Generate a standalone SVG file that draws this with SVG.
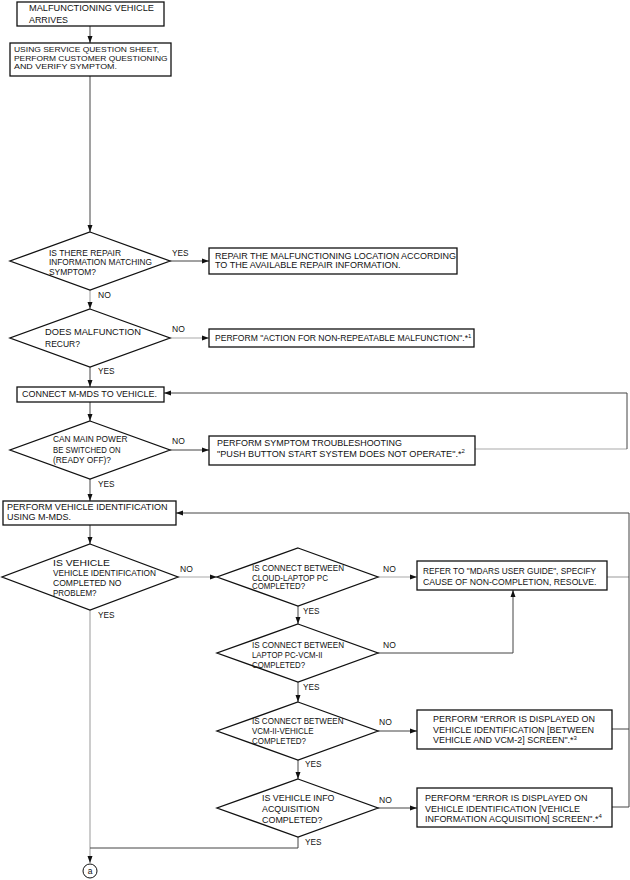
<svg xmlns="http://www.w3.org/2000/svg" width="630" height="880" viewBox="0 0 630 880">
<style>
text{font-family:"Liberation Sans",Arial,sans-serif;font-size:8.5px;fill:#111}
.box{fill:#fff;stroke:#111;stroke-width:1.3}
.dia{fill:#fff;stroke:#111;stroke-width:1.3}
.ln{fill:none;stroke:#444;stroke-width:1}
.lg{fill:none;stroke:#aaa;stroke-width:1.2}
.sup{font-size:6px}
.sm{font-size:8px}
.big{font-size:9.2px}
</style>
<defs>
<marker id="ar" markerUnits="userSpaceOnUse" markerWidth="8" markerHeight="6" refX="7" refY="3" orient="auto">
<path d="M0,0.5 L7,3 L0,5.5 z" fill="#111"/>
</marker>
</defs>
<rect width="630" height="880" fill="#fff"/>
<g id="connectors">
<path class="ln" d="M90,26 V43" marker-end="url(#ar)"/>
<path class="ln" d="M90,76 V232" marker-end="url(#ar)"/>
<path class="ln" d="M170,261 H209" marker-end="url(#ar)"/>
<path class="lg" d="M90,290 V309" marker-end="url(#ar)"/>
<path class="lg" d="M170,338 H209" marker-end="url(#ar)"/>
<path class="ln" d="M90,367 V387" marker-end="url(#ar)"/>
<path class="ln" d="M90,402 V421" marker-end="url(#ar)"/>
<path class="ln" d="M170,450 H209" marker-end="url(#ar)"/>
<path class="lg" d="M475,449 H627"/>
<path class="ln" d="M627,449 V393 H164" marker-end="url(#ar)"/>
<path class="ln" d="M90,479 V501" marker-end="url(#ar)"/>
<path class="ln" d="M90,525 V544" marker-end="url(#ar)"/>
<path class="lg" d="M178,577 H217" marker-end="url(#ar)"/>
<path class="lg" d="M378,577 H417" marker-end="url(#ar)"/>
<path class="ln" d="M298,606 V624" marker-end="url(#ar)"/>
<path class="ln" d="M378,653 H513 V590" marker-end="url(#ar)"/>
<path class="ln" d="M298,682 V702" marker-end="url(#ar)"/>
<path class="ln" d="M378,731 H417" marker-end="url(#ar)"/>
<path class="ln" d="M298,760 V779" marker-end="url(#ar)"/>
<path class="ln" d="M378,808 H417" marker-end="url(#ar)"/>
<path class="lg" d="M607,577 H629"/>
<path class="ln" d="M612,729 H629"/>
<path class="ln" d="M612,807 H629 V513 H176" marker-end="url(#ar)"/>
<path class="lg" d="M90,610 V863" marker-end="url(#ar)"/>
<path class="ln" d="M298,837 V848 H90"/>
</g>
<g id="n1"><rect class="box" x="17" y="2" width="147" height="24"/>
<text x="29" y="10.7" textLength="125" lengthAdjust="spacingAndGlyphs">MALFUNCTIONING VEHICLE</text><text x="29" y="22.7" textLength="39" lengthAdjust="spacingAndGlyphs">ARRIVES</text></g>
<g id="n2"><rect class="box" x="10" y="43" width="161" height="33"/>
<text class="sm" x="14" y="52" textLength="145" lengthAdjust="spacingAndGlyphs">USING SERVICE QUESTION SHEET,</text><text class="sm" x="14" y="60.6" textLength="153.5" lengthAdjust="spacingAndGlyphs">PERFORM CUSTOMER QUESTIONING</text><text class="sm" x="14" y="69" textLength="103" lengthAdjust="spacingAndGlyphs">AND VERIFY SYMPTOM.</text></g>
<g id="d1"><polygon class="dia" points="90,232 170,261 90,290 10,261"/>
<text x="49" y="255.7" textLength="72" lengthAdjust="spacingAndGlyphs">IS THERE REPAIR</text><text x="49" y="265.3" textLength="103" lengthAdjust="spacingAndGlyphs">INFORMATION MATCHING</text><text x="49" y="275" textLength="47" lengthAdjust="spacingAndGlyphs">SYMPTOM?</text>
<text x="172" y="255.7" textLength="16.5" lengthAdjust="spacingAndGlyphs">YES</text><text x="98" y="298.3">NO</text></g>
<g id="n3"><rect class="box" x="209" y="248" width="248" height="26"/>
<text x="215" y="258.7" textLength="241" lengthAdjust="spacingAndGlyphs">REPAIR THE MALFUNCTIONING LOCATION ACCORDING</text><text x="215" y="268.3" textLength="185.5" lengthAdjust="spacingAndGlyphs">TO THE AVAILABLE REPAIR INFORMATION.</text></g>
<g id="d2"><polygon class="dia" points="90,309 170,338 90,367 10,338"/>
<text x="45" y="335.3" textLength="96" lengthAdjust="spacingAndGlyphs">DOES MALFUNCTION</text><text x="45" y="346.7">RECUR?</text>
<text x="172" y="331.7">NO</text><text x="98" y="374" textLength="16.5" lengthAdjust="spacingAndGlyphs">YES</text></g>
<g id="n4"><rect class="box" x="209" y="329" width="265" height="18"/>
<text x="215" y="341" textLength="253" lengthAdjust="spacingAndGlyphs">PERFORM "ACTION FOR NON-REPEATABLE MALFUNCTION".*</text><text class="sup" x="468" y="337.5">1</text></g>
<g id="n5"><rect class="box" x="17" y="387" width="147" height="15"/>
<text x="22" y="397.3" textLength="135" lengthAdjust="spacingAndGlyphs">CONNECT M-MDS TO VEHICLE.</text></g>
<g id="d3"><polygon class="dia" points="90,421 170,450 90,479 10,450"/>
<text x="53" y="441.7" textLength="74.5" lengthAdjust="spacingAndGlyphs">CAN MAIN POWER</text><text x="53" y="452.7" textLength="67.5" lengthAdjust="spacingAndGlyphs">BE SWITCHED ON</text><text x="53" y="463.3" textLength="58" lengthAdjust="spacingAndGlyphs">(READY OFF)?</text>
<text x="172" y="444">NO</text><text x="98" y="486.7" textLength="16.5" lengthAdjust="spacingAndGlyphs">YES</text></g>
<g id="n6"><rect class="box" x="209" y="436" width="266" height="29"/>
<text x="217" y="446" textLength="185" lengthAdjust="spacingAndGlyphs">PERFORM SYMPTOM TROUBLESHOOTING</text><text x="217" y="456.7" textLength="244.5" lengthAdjust="spacingAndGlyphs">"PUSH BUTTON START SYSTEM DOES NOT OPERATE".*</text><text class="sup" x="461.5" y="453">2</text></g>
<g id="n7"><rect class="box" x="3" y="501" width="173" height="24"/>
<text x="7" y="510" textLength="160.5" lengthAdjust="spacingAndGlyphs">PERFORM VEHICLE IDENTIFICATION</text><text x="7" y="520" textLength="64" lengthAdjust="spacingAndGlyphs">USING M-MDS.</text></g>
<g id="d4"><polygon class="dia" points="90,544 178,577 90,610 2,577"/>
<text x="53" y="566" textLength="57" lengthAdjust="spacingAndGlyphs">IS VEHICLE</text><text x="53" y="576" textLength="103" lengthAdjust="spacingAndGlyphs">VEHICLE IDENTIFICATION</text><text x="53" y="586" textLength="68.5" lengthAdjust="spacingAndGlyphs">COMPLETED NO</text><text x="53" y="596" textLength="43.5" lengthAdjust="spacingAndGlyphs">PROBLEM?</text>
<text x="180" y="571.7">NO</text><text x="98" y="618.3" textLength="16.5" lengthAdjust="spacingAndGlyphs">YES</text></g>
<g id="d5"><polygon class="dia" points="298,548 378,577 298,606 217,577"/>
<text x="252" y="571" textLength="92" lengthAdjust="spacingAndGlyphs">IS CONNECT BETWEEN</text><text x="252" y="580.7" textLength="76" lengthAdjust="spacingAndGlyphs">CLOUD-LAPTOP PC</text><text x="252" y="589.3" textLength="53" lengthAdjust="spacingAndGlyphs">COMPLETED?</text>
<text x="383" y="571.7">NO</text><text x="303" y="614.3" textLength="16.5" lengthAdjust="spacingAndGlyphs">YES</text></g>
<g id="n8"><rect class="box" x="417" y="561" width="190" height="29"/>
<text x="423" y="574.3" textLength="173" lengthAdjust="spacingAndGlyphs">REFER TO "MDARS USER GUIDE", SPECIFY</text><text x="423" y="585.3" textLength="173.5" lengthAdjust="spacingAndGlyphs">CAUSE OF NON-COMPLETION, RESOLVE.</text></g>
<g id="d6"><polygon class="dia" points="298,624 378,653 298,682 217,653"/>
<text x="252" y="647.7" textLength="92" lengthAdjust="spacingAndGlyphs">IS CONNECT BETWEEN</text><text x="252" y="657.7" textLength="70.5" lengthAdjust="spacingAndGlyphs">LAPTOP PC-VCM-II</text><text x="252" y="667.7" textLength="53" lengthAdjust="spacingAndGlyphs">COMPLETED?</text>
<text x="383" y="647.7">NO</text><text x="303" y="690" textLength="16.5" lengthAdjust="spacingAndGlyphs">YES</text></g>
<g id="d7"><polygon class="dia" points="298,702 378,731 298,760 217,731"/>
<text x="252" y="724.3" textLength="91.5" lengthAdjust="spacingAndGlyphs">IS CONNECT BETWEEN</text><text x="252" y="734" textLength="61.5" lengthAdjust="spacingAndGlyphs">VCM-II-VEHICLE</text><text x="252" y="744" textLength="54" lengthAdjust="spacingAndGlyphs">COMPLETED?</text>
<text x="379" y="725">NO</text><text x="305" y="767.3" textLength="16.5" lengthAdjust="spacingAndGlyphs">YES</text></g>
<g id="n9"><rect class="box" x="417" y="710" width="195" height="39"/>
<text x="433" y="722.3" textLength="162" lengthAdjust="spacingAndGlyphs">PERFORM "ERROR IS DISPLAYED ON</text><text x="433" y="733.3" textLength="161" lengthAdjust="spacingAndGlyphs">VEHICLE IDENTIFICATION [BETWEEN</text><text x="433" y="743.3" textLength="140.5" lengthAdjust="spacingAndGlyphs">VEHICLE AND VCM-2] SCREEN".*</text><text class="sup" x="573.5" y="739.5">3</text></g>
<g id="d8"><polygon class="dia" points="298,779 378,808 298,837 217,808"/>
<text class="big" x="262" y="801" textLength="72.5" lengthAdjust="spacingAndGlyphs">IS VEHICLE INFO</text><text class="big" x="262" y="811.7" textLength="57.5" lengthAdjust="spacingAndGlyphs">ACQUISITION</text><text class="big" x="262" y="822.7" textLength="60.5" lengthAdjust="spacingAndGlyphs">COMPLETED?</text>
<text x="379" y="802.7">NO</text><text x="305" y="845" textLength="16.5" lengthAdjust="spacingAndGlyphs">YES</text></g>
<g id="n10"><rect class="box" x="417" y="788" width="195" height="39"/>
<text x="425" y="800.7" textLength="162.5" lengthAdjust="spacingAndGlyphs">PERFORM "ERROR IS DISPLAYED ON</text><text x="425" y="811.7" textLength="155" lengthAdjust="spacingAndGlyphs">VEHICLE IDENTIFICATION [VEHICLE</text><text x="425" y="821.7" textLength="173.5" lengthAdjust="spacingAndGlyphs">INFORMATION ACQUISITION] SCREEN".*</text><text class="sup" x="598.5" y="818">4</text></g>
<g id="ca"><circle cx="90" cy="871" r="7" fill="#fff" stroke="#111" stroke-width="1"/>
<text x="90" y="874" text-anchor="middle" font-size="9">a</text></g>
</svg>
